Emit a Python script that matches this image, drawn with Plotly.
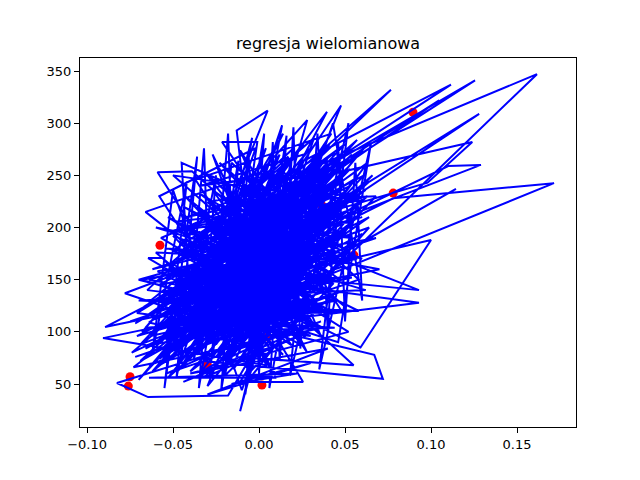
import plotly.graph_objects as go

# test points (red)
x_test = [0.0895, -0.0576, -0.075, -0.076, 0.0552, 0.078, 0.0017, 0.0366,
          -0.03, 0.01, -0.015, 0.02, -0.04, 0.03, 0.005]
y_test = [310.5, 183, 57, 48, 173.6, 233, 49, 221,
          68, 115, 140, 170, 110, 190, 95]

# predicted curve (blue), in the original (unsorted) order
pred = [
    (0.062, 236), (-0.052, 101), (0.044, 228), (-0.012, 120), (-0.0645, 170.7),
    (-0.056, 170.7), (-0.018, 98), (0.021, 214), (-0.036, 78), (0.008, 188),
    (-0.028, 152), (0.033, 176), (-0.044, 132), (0.015, 262), (-0.005, 75),
    (0.054, 205), (-0.024, 196), (0.0, 108), (-0.061, 88), (0.039, 248),
    (-0.009, 142), (0.027, 95), (-0.033, 210), (0.011, 160), (-0.047, 63),
    (0.061, 276), (-0.015, 171), (0.004, 68), (-0.0907, 94), (0.018, 131),
    (-0.027, 236), (0.047, 150), (-0.038, 118), (0.006, 226), (-0.02, 58),
    (0.1616, 347), (0.012, 244), (-0.041, 96), (0.029, 196), (-0.007, 185),
    (-0.055, 127), (0.036, 142), (-0.0215, 282), (-0.001, 282), (-0.016, 112),
    (0.024, 157), (-0.069, 72), (0.052, 258), (-0.003, 131), (0.0256, 52),
    (-0.011, 52), (0.042, 198), (-0.031, 143), (0.016, 118), (-0.05, 178),
    (0.034, 268), (-0.022, 84), (0.001, 200), (0.093, 140), (-0.013, 158),
    (0.019, 87), (-0.043, 160), (0.058, 220), (-0.008, 97), (0.031, 232),
    (-0.035, 104), (0.1715, 242.5), (0.078, 228), (0.003, 166), (-0.058, 145),
    (0.014, 210), (-0.026, 66), (0.045, 176), (-0.004, 249), (0.023, 120),
    (-0.048, 112), (0.009, 138), (-0.019, 218), (0.05, 124), (-0.039, 254),
    (-0.059, 253), (-0.01, 126), (0.02, 182), (-0.03, 90), (0.066, 250),
    (-0.014, 134), (0.007, 82), (-0.064, 109), (0.037, 214), (-0.024, 168),
    (0.013, 100), (-0.0826, 51), (-0.0645, 37.5), (-0.018, 39), (0.028, 168),
    (-0.006, 204), (0.041, 112), (-0.036, 186), (0.1256, 341), (0.017, 226),
    (-0.029, 127), (0.005, 150), (-0.052, 80), (0.057, 188), (-0.011, 93),
    (0.026, 252), (-0.042, 146), (0.01, 116), (-0.066, 215), (0.004, 255),
    (-0.017, 148), (0.032, 128), (-0.034, 61), (0.048, 238), (-0.002, 176),
    (0.022, 103), (-0.046, 125), (0.0395, 311), (0.008, 212), (-0.025, 106),
    (0.1145, 237), (0.015, 144), (-0.037, 170), (0.003, 92), (-0.078, 137),
    (0.021, 198), (-0.013, 76), (0.055, 68), (-0.006, 160), (0.035, 190),
    (-0.027, 115), (0.012, 270), (-0.054, 92), (0.044, 160), (-0.009, 230),
    (0.019, 140), (-0.04, 102), (0.0477, 317), (-0.001, 118), (0.03, 210),
    (-0.021, 132), (0.0134, 298), (-0.008, 108), (0.067, 78), (0.072, 55),
    (-0.032, 72), (0.006, 176), (-0.056, 138), (0.038, 174), (-0.015, 196),
    (0.1047, 322), (0.024, 230), (-0.028, 186), (0.002, 136), (-0.045, 88),
    (0.05, 200), (-0.012, 100), (0.011, 190), (-0.0895, 104.6), (-0.033, 124),
    (0.016, 164), (-0.005, 62), (0.043, 146), (-0.023, 240), (0.027, 180),
    (-0.038, 140), (0.128, 309), (0.025, 196), (-0.018, 120), (0.009, 246),
    (-0.06, 120), (0.033, 154), (-0.003, 98), (0.018, 222), (-0.031, 160),
    (0.059, 85), (0.1, 188), (0.001, 150), (-0.049, 145), (0.04, 236),
    (-0.016, 88), (0.005, 132), (-0.035, 196), (0.022, 138), (-0.01, 172),
    (0.129, 260), (0.11, 259), (0.036, 200), (-0.026, 96), (0.014, 186),
    (-0.042, 115), (0.049, 270), (-0.004, 144), (0.029, 112), (-0.02, 180),
    (0.0767, 332), (0.02, 250), (-0.044, 70), (0.007, 164), (-0.014, 102),
    (0.031, 144), (-0.071, 96), (0.064, 210), (-0.007, 128), (0.017, 172),
    (-0.03, 224), (0.124, 282), (0.098, 243), (0.01, 200), (-0.024, 146),
    (0.046, 186), (-0.002, 84), (0.028, 136), (-0.05, 160), (0.093, 128),
    (0.005, 110), (-0.037, 90), (0.04, 220), (-0.012, 164), (0.019, 104),
    (-0.0215, 72), (0.053, 240), (-0.006, 192), (0.025, 124), (-0.04, 178),
    (0.028, 303), (0.0, 140), (-0.019, 150), (0.035, 118), (-0.033, 134),
    (0.012, 230), (0.1116, 337), (0.026, 264), (-0.009, 116), (0.016, 204),
    (-0.047, 100), (0.005, 312), (-0.013, 293), (-0.004, 170), (0.037, 160),
    (-0.025, 76), (0.01, 152), (-0.011, 24), (0.003, 120), (0.045, 208),
    (-0.062, 62), (0.041, 258), (-0.048, 148), (0.03, 96), (-0.071, 118),
    (0.055, 246), (-0.02, 66), (0.013, 236), (-0.057, 104), (0.046, 130),
    (-0.034, 232), (0.022, 178), (-0.066, 84), (0.06, 194), (-0.006, 54),
    (0.02, 276), (-0.045, 176), (0.037, 104), (-0.073, 66), (0.051, 226),
    (-0.016, 206), (0.009, 86), (-0.052, 124), (0.063, 262), (-0.029, 58),
    (0.027, 222), (-0.041, 200), (0.014, 128), (-0.063, 130), (0.044, 272),
    (-0.008, 80), (0.032, 248), (-0.054, 70), (0.018, 190), (-0.023, 262),
    (0.048, 162), (-0.068, 100), (0.006, 240), (-0.037, 110), (0.057, 284),
    (-0.012, 184), (0.024, 88), (-0.059, 158), (0.039, 186), (-0.03, 48),
    (0.011, 216), (-0.046, 140), (0.034, 232), (-0.074, 80), (0.052, 178),
    (-0.018, 230), (0.004, 102), (-0.05, 192), (0.026, 146), (-0.04, 62),
    (0.058, 236), (-0.01, 148), (0.017, 268), (-0.065, 140), (0.036, 120),
    (-0.026, 200), (0.043, 252), (-0.055, 86), (0.008, 170), (-0.032, 254),
    (0.03, 162), (-0.061, 112), (0.049, 214), (-0.015, 64), (0.021, 158),
    (-0.044, 220), (0.002, 182), (-0.07, 54), (0.038, 264), (-0.022, 124),
    (0.054, 152), (-0.036, 150), (0.015, 96), (-0.051, 166), (0.032, 286),
    (-0.003, 112), (0.025, 206), (-0.058, 74), (0.045, 196), (-0.028, 174),
    (0.009, 60), (-0.047, 206), (0.06, 226), (-0.013, 138), (0.028, 248),
    (-0.063, 96), (0.04, 134), (-0.019, 104), (0.016, 218), (-0.039, 126),
    (0.05, 280), (-0.008, 210), (0.023, 114), (-0.053, 152), (0.035, 224),
    (-0.025, 88), (0.012, 176), (-0.067, 124), (0.047, 242), (-0.031, 188),
    (0.004, 126), (-0.043, 82), (0.056, 208), (-0.017, 226), (0.031, 104),
    (-0.057, 190), (0.019, 244), (-0.005, 90), (0.042, 174), (-0.035, 214),
    (0.01, 134), (-0.06, 66), (0.053, 256), (-0.021, 156), (0.026, 190),
    (-0.049, 118), (0.034, 140), (-0.011, 246), (0.007, 198), (-0.072, 108),
    (0.046, 222), (-0.027, 140), (0.014, 78), (-0.038, 164), (0.061, 250),
    (-0.014, 116), (0.03, 226), (-0.053, 56), (0.022, 166), (-0.033, 182),
    (0.039, 152), (-0.046, 92), (0.018, 256), (-0.002, 160), (0.044, 118),
    (-0.064, 150), (0.033, 198), (-0.024, 222), (0.011, 108), (-0.041, 138),
    (0.057, 170), (-0.009, 186), (0.027, 236), (-0.056, 116), (0.038, 208),
    (-0.019, 70), (0.006, 220), (-0.048, 168), (0.05, 234), (-0.029, 100),
    (0.02, 144), (-0.069, 88), (0.041, 280), (-0.012, 152), (0.015, 182),
    (-0.034, 82), (0.063, 230), (-0.022, 192), (0.003, 144), (-0.052, 134),
    (0.036, 252), (-0.007, 120), (0.024, 172), (-0.044, 104), (0.048, 194),
    (-0.045, 262), (-0.04, 120), (-0.032, 276), (-0.028, 90), (-0.018, 290),
    (-0.014, 110), (-0.006, 268), (0.0, 60), (0.008, 282), (0.012, 72),
    (0.02, 296), (0.024, 84), (0.034, 290), (0.04, 100), (0.046, 282),
    (0.05, 110), (0.056, 262), (0.06, 130), (0.043, 300), (-0.01, 44),
    (-0.05, 236), (-0.062, 80), (-0.042, 244), (-0.055, 46), (-0.036, 268),
    (-0.048, 56), (-0.025, 250), (-0.035, 46), (-0.012, 264), (-0.022, 44),
    (0.003, 290), (-0.008, 40), (0.016, 288), (0.006, 46), (0.03, 260),
    (0.018, 58), (0.052, 300), (0.035, 64), (0.065, 280), (0.046, 90),
    (-0.068, 150), (0.068, 190), (-0.075, 110), (0.07, 160), (-0.06, 200),
    (0.062, 140), (-0.07, 130), (0.058, 120), (-0.053, 210), (0.052, 100),
    (-0.04, 60), (0.04, 84), (-0.03, 40), (0.03, 70), (-0.016, 50),
    (0.022, 60), (-0.064, 56), (0.01, 56), (-0.058, 230), (-0.002, 276),
    (-0.046, 70), (0.042, 290), (-0.037, 246), (0.028, 80), (-0.027, 270),
    (0.012, 92), (-0.02, 244), (0.036, 96), (-0.011, 274), (0.048, 120),
    (-0.052, 110), (0.054, 270), (-0.044, 90), (0.064, 244), (-0.034, 100),
    (0.044, 104), (-0.024, 112), (0.038, 124), (-0.014, 92), (0.032, 116),
    (-0.066, 104), (0.026, 280), (-0.056, 94), (0.014, 290), (-0.048, 84),
    (0.004, 276), (-0.038, 74), (-0.004, 286), (-0.028, 70), (-0.016, 262),
    (0.058, 150), (-0.072, 76), (0.05, 140), (-0.064, 68), (0.044, 132),
    (-0.054, 60), (0.036, 110), (-0.044, 52), (0.026, 98), (-0.032, 56),
    (0.068, 230), (-0.02, 224), (0.06, 170), (-0.01, 200), (0.054, 190),
    (0.0, 230), (0.047, 210), (0.008, 250), (0.04, 150), (0.016, 234),
    (-0.05, 250), (0.033, 130), (-0.043, 230), (0.025, 110), (-0.036, 220),
    (0.018, 120), (-0.026, 210), (0.01, 100), (-0.018, 196), (0.002, 90),
    (-0.06, 176), (0.052, 168), (-0.054, 180), (0.046, 148), (-0.046, 186),
    (0.038, 138), (-0.038, 190), (0.03, 122), (-0.03, 200), (0.022, 112),
    (-0.07, 150), (0.06, 210), (-0.062, 160), (0.05, 220), (-0.052, 196),
    (0.042, 240), (-0.042, 210), (0.034, 256), (-0.034, 240), (0.026, 270),
    (-0.008, 66), (0.064, 200), (-0.058, 128), (0.056, 230), (-0.048, 128),
    (0.048, 250), (-0.04, 150), (0.04, 266), (-0.03, 160), (0.03, 276),
]
x_pred = [p[0] for p in pred]
y_pred = [p[1] for p in pred]

fig = go.Figure()
fig.add_trace(go.Scatter(x=x_test, y=y_test, mode="markers",
                         marker=dict(color="red", size=9, line=dict(width=0))))
fig.add_trace(go.Scatter(x=x_pred, y=y_pred, mode="lines",
                         line=dict(color="blue", width=2)))

axis_style = dict(showgrid=False, zeroline=False, showline=True, linecolor="black",
                  linewidth=1, mirror=True, ticks="outside", ticklen=5,
                  tickcolor="black", tickfont=dict(family="DejaVu Sans", size=13, color="black"))
fig.update_xaxes(range=[-0.1041, 0.1843], tickvals=[-0.10, -0.05, 0.0, 0.05, 0.10, 0.15],
                 tickformat=".2f", **axis_style)
fig.update_yaxes(range=[8.8, 362.5], tickvals=[50, 100, 150, 200, 250, 300, 350], **axis_style)

fig.update_layout(
    width=640, height=480, showlegend=False,
    plot_bgcolor="white", paper_bgcolor="white",
    margin=dict(l=72, r=72, t=50, b=61),
    title=dict(text="regresja wielomianowa", x=0.5, xref="paper", xanchor="center",
               y=1 - 35 / 480, yref="container", yanchor="middle",
               font=dict(family="DejaVu Sans", size=16, color="black")),
)
fig.write_html("out.html")
